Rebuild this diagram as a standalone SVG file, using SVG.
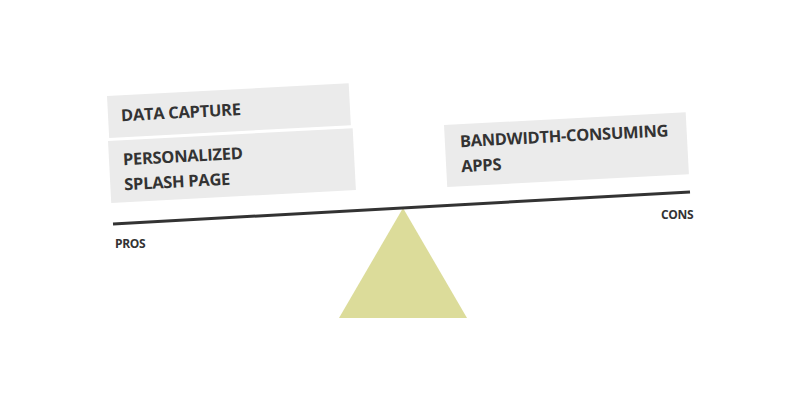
<svg xmlns="http://www.w3.org/2000/svg" width="800" height="400" viewBox="0 0 800 400">
<style>
.box{fill:#ebebeb}
.t{font-family:"Open Sans","Liberation Sans",sans-serif;font-weight:bold;font-size:16.5px;fill:#333;letter-spacing:-0.3px}
.s{font-family:"Open Sans","Liberation Sans",sans-serif;font-weight:bold;font-size:12px;fill:#333;letter-spacing:-0.3px}
</style>
<rect width="800" height="400" fill="#fff"/>
<g id="fulcrum"><polygon points="403,208 339,318 467,318" fill="#dcdc9a"/></g>
<g id="connectors"><line x1="113" y1="224" x2="690" y2="192" stroke="#333" stroke-width="3"/></g>
<g id="data-capture" transform="translate(107,96) rotate(-3)">
<rect class="box" width="242" height="42"/>
<text class="t" x="13" y="26">DATA CAPTURE</text>
</g>
<g id="personalized" transform="translate(108,141) rotate(-3)">
<rect class="box" width="245" height="62"/>
<text class="t" x="14" y="25">PERSONALIZED</text>
<text class="t" x="14" y="50">SPLASH PAGE</text>
</g>
<g id="bandwidth" transform="translate(444,125) rotate(-3)">
<rect class="box" width="242" height="62"/>
<text class="t" x="15" y="23">BANDWIDTH-CONSUMING</text>
<text class="t" x="15" y="48">APPS</text>
</g>
<g id="pros"><text class="s" x="115" y="248">PROS</text></g>
<g id="cons"><text class="s" x="661" y="219">CONS</text></g>
</svg>
